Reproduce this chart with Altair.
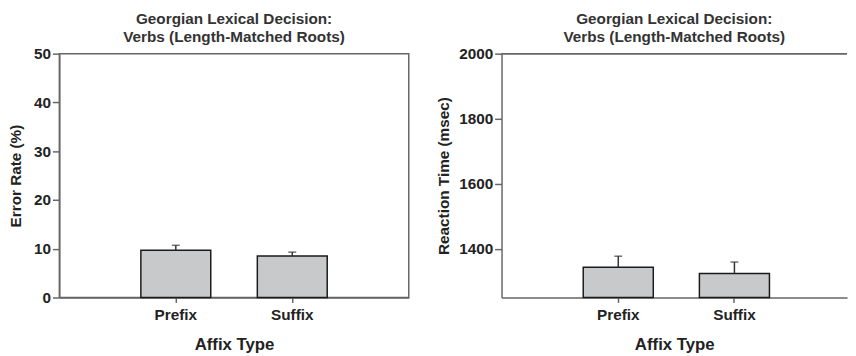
import altair as alt
import pandas as pd

categories = ["Prefix", "Suffix"]
error_rate = [9.7, 8.5]
error_se = [1.0, 0.8]
rt_mean = [1343, 1324]
rt_se = [34, 35]
rt_floor = [1250, 1250]
rt_ceiling = 2000

title_lines = ["Georgian Lexical Decision:", "Verbs (Length-Matched Roots)"]

df_err = pd.DataFrame({"cat": categories, "val": error_rate,
                       "top": [v + s for v, s in zip(error_rate, error_se)], "base": [0, 0]})
df_rt = pd.DataFrame({"cat": categories, "val": rt_mean,
                      "top": [v + s for v, s in zip(rt_mean, rt_se)], "base": rt_floor})

FONT = "Liberation Sans"
AXIS_COL = "#666666"
TEXT_COL = "#222222"


def panel(df, domain, ticks, ytitle, title_pad, width, frame, x_scale):
    x = alt.X("cat:N", sort=categories, scale=x_scale,
              axis=alt.Axis(title="Affix Type", labelAngle=0, tickSize=5, labelPadding=5,
                            titlePadding=14, titleFontSize=17, labelFontSize=15.5,
                            labelFont=FONT, titleFont=FONT, labelFontWeight="bold",
                            titleFontWeight="bold", labelColor=TEXT_COL, titleColor=TEXT_COL,
                            domainColor=AXIS_COL, tickColor=AXIS_COL, domainWidth=1.5, tickWidth=1.5))
    yscale = alt.Scale(domain=domain, zero=False, nice=False)
    yaxis = alt.Axis(title=ytitle, values=ticks, format="d", tickSize=7, labelPadding=2,
                     titlePadding=title_pad, titleFontSize=15.5, labelFontSize=15.5, grid=False,
                     labelFont=FONT, titleFont=FONT, labelFontWeight="bold",
                     titleFontWeight="bold", labelColor=TEXT_COL, titleColor=TEXT_COL,
                     domainColor=AXIS_COL, tickColor=AXIS_COL, domainWidth=1.5, tickWidth=1.5)
    bars = alt.Chart(df).mark_bar(fill="#c8c9ca", stroke="#1a1a1a", strokeWidth=1.5).encode(
        x=x, y=alt.Y("val:Q", scale=yscale, axis=yaxis), y2="base:Q")
    rule = alt.Chart(df).mark_rule(color="#333333", strokeWidth=1.5).encode(
        x=alt.X("cat:N", sort=categories), y=alt.Y("val:Q"), y2="top:Q")
    cap = alt.Chart(df).mark_tick(color="#333333", thickness=1.5, size=8).encode(
        x=alt.X("cat:N", sort=categories), y=alt.Y("top:Q"))
    layers = [bars, rule, cap]
    if not frame:
        top_border = alt.Chart(df).mark_rule(color=AXIS_COL, strokeWidth=1.5).encode(
            y=alt.datum(domain[1]))
        layers.append(top_border)
    props = dict(width=width, height=247,
                 title=alt.TitleParams(text=title_lines, fontSize=15.5, font=FONT, fontWeight="bold",
                                       color="#333333", offset=1, lineHeight=19, anchor="middle"))
    if frame:
        props["view"] = alt.ViewConfig(stroke=AXIS_COL, strokeWidth=1.5)
    else:
        props["view"] = alt.ViewConfig(strokeOpacity=0)
    return alt.layer(*layers).properties(**props)


left = panel(df_err, [0, 50], [0, 10, 20, 30, 40, 50], "Error Rate (%)", 10, 354, True,
             alt.Scale(paddingInner=0.4, paddingOuter=0.7))
right = panel(df_rt, [1250, rt_ceiling], [1400, 1600, 1800, 2000], "Reaction Time (msec)", 7, 350, False,
              alt.Scale(paddingInner=0.397, paddingOuter=0.6855, align=0.513))

chart = alt.hconcat(left, right, spacing=27).properties(
    padding={"left": 0, "top": 0, "right": 0, "bottom": 0}
).configure(background="white")

chart.save("out.html", embed_options={"renderer": "svg", "actions": False})
